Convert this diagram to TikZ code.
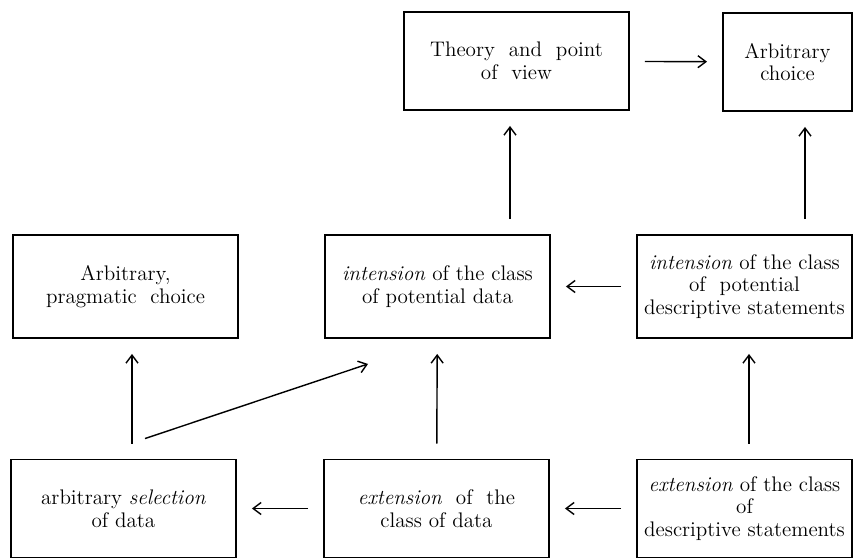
\documentclass[tikz,border=0pt]{standalone}
\usetikzlibrary{arrows.meta, positioning}

\begin{document}
\begin{tikzpicture}[
    % GLOBAL CFG
    x=0.2mm, y=-0.2mm,
    font=\fontsize{12}{13}\selectfont,
    >={Straight Barb[length=1.6mm, width=2.4mm]},
    % Styles
    box/.style={% For the framed statements
        rectangle,
        draw,
        line width=1.1pt,
        align=center,
        minimum height=19.6mm,
        minimum width=45mm,
        inner sep=1pt,
        },
    arr/.style={% Plain arrows between the boxes
        ->,
        line width=0.8pt,
        shorten >=3mm,
        shorten <=3mm,
        },
    ]
    \useasboundingbox (0,0) rectangle (858,559);

    % Top row
    \node [box] (theory) at (516.5,61) {Theory\ \ and\ \ point\\of\ \ view};
    \node [box, minimum width=25.8mm] (choiceTop) at (787.5,62) {Arbitrary\\choice};

    % Middle row
    \node [box, minimum height=20.6mm] (pragm) at (125.5,286.5) {Arbitrary,\\pragmatic\ \ choice};
    \node [box, minimum height=20.6mm] (intData) at (437.5,286.5) {\textit{intension} of the class\\of potential data};
    \node [box, minimum height=20.6mm, minimum width=43mm] (intStat) at (744.5,286.5) {\textit{intension} of the class\\of\ \ potential\\descriptive statements};

    % Bottom row
    \node [box] (select) at (123.5,508.5) {arbitrary \textit{selection}\\of data};
    \node [box] (extData) at (436.5,508.5) {\textit{extension}\ \ of\ \ the\\class of data};
    \node [box, minimum width=43mm] (extStat) at (744.5,508.5) {\textit{extension} of the class\\of\\descriptive statements};

    % Arrows along the rows
    \draw [arr] (theory) -- (choiceTop);
    \draw [arr] (intStat) -- (intData);
    \draw [arr] (extStat) -- (extData);
    \draw [arr] (extData) -- (select);

    % Arrows up the columns
    \draw [arr] ([xshift=1.7mm]select.north) -- ([xshift=1.7mm]select.north |- pragm.south);
    \draw [arr] (extData) -- (intData);
    \draw [arr] ([xshift=0.9mm]extStat.north) -- ([xshift=0.9mm]extStat.north |- intStat.south);
    \draw [arr] ([xshift=14.5mm]intData.north) -- ([xshift=14.5mm]intData.north |- theory.south);
    \draw [arr] ([xshift=12.1mm]intStat.north) -- ([xshift=12.1mm]intStat.north |- choiceTop.south);

    % From the selection to the intension
    \draw [->, line width=0.8pt] ([xshift=4.3mm, yshift=4mm]select.north) -- ([xshift=-13.9mm, yshift=-5mm]intData.south);
\end{tikzpicture}
\end{document}
